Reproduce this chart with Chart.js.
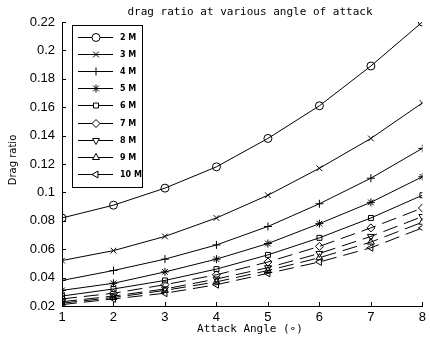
<!DOCTYPE html>
<html lang="en">
<head>
  <meta charset="UTF-8" />
  <title>Drag ratio</title>
  <script src="https://cdn.jsdelivr.net/npm/chart.js"></script>
  <style>
    body {
      margin: 0;
      padding: 0;
      background: #ffffff;
    }
    .wrap {
      width: 430px;
      height: 337px;
    }
  </style>
</head>
<body>
  <div class="wrap"><canvas id="dragChart" width="430" height="337"></canvas></div>

  <script>
    // data
    const angles = [1, 2, 3, 4, 5, 6, 7, 8];
    const seriesNames = ['2 M', '3 M', '4 M', '5 M', '6 M', '7 M', '8 M', '9 M', '10 M'];
    const m2  = [0.082, 0.091, 0.103, 0.118, 0.138, 0.161, 0.189, 0.220];
    const m3  = [0.052, 0.059, 0.069, 0.082, 0.098, 0.117, 0.138, 0.163];
    const m4  = [0.038, 0.045, 0.053, 0.063, 0.076, 0.092, 0.110, 0.131];
    const m5  = [0.031, 0.036, 0.044, 0.053, 0.064, 0.078, 0.093, 0.111];
    const m6  = [0.027, 0.032, 0.038, 0.046, 0.056, 0.068, 0.082, 0.098];
    const m7  = [0.025, 0.029, 0.035, 0.042, 0.051, 0.062, 0.075, 0.089];
    const m8  = [0.023, 0.027, 0.032, 0.039, 0.047, 0.057, 0.069, 0.083];
    const m9  = [0.022, 0.026, 0.031, 0.037, 0.045, 0.054, 0.065, 0.079];
    const m10 = [0.021, 0.025, 0.029, 0.035, 0.043, 0.051, 0.061, 0.075];
    const yTicks = [0.02, 0.04, 0.06, 0.08, 0.1, 0.12, 0.14, 0.16, 0.18, 0.2, 0.22];

    const allSeries = [m2, m3, m4, m5, m6, m7, m8, m9, m10];
    const markers = ['circle', 'crossRot', 'cross', 'star', 'rect', 'rectRot', 'triangle', 'triangle', 'triangle'];
    const rotations = [0, 0, 0, 0, 0, 0, 180, 0, 270];
    const dashed = [false, false, false, false, false, true, true, true, true];

    const datasets = allSeries.map((vals, i) => ({
      label: seriesNames[i],
      data: angles.map((a, k) => ({ x: a, y: vals[k] })),
      borderColor: '#000',
      borderWidth: 1,
      borderDash: dashed[i] ? [15, 7] : [],
      pointStyle: markers[i],
      pointRotation: rotations[i],
      pointRadius: markers[i] === 'rect' ? 3.5 : 4,
      pointBorderColor: '#000',
      pointBackgroundColor: 'rgba(0,0,0,0)',
      pointBorderWidth: 1,
      tension: 0,
      fill: false
    }));

    const fmt = v => String(Math.round(v * 100) / 100);

    // inward ticks, titles and boxed legend
    const decor = {
      id: 'decor',
      afterDraw(chart) {
        const ctx = chart.ctx;
        const xs = chart.scales.x, ys = chart.scales.y;
        const area = chart.chartArea;
        ctx.save();
        ctx.strokeStyle = '#000';
        ctx.lineWidth = 1;
        ctx.beginPath();
        yTicks.forEach(v => {
          const py = Math.round(ys.getPixelForValue(v)) + 0.5;
          ctx.moveTo(area.left, py);
          ctx.lineTo(area.left + 4, py);
        });
        angles.forEach(a => {
          const px = Math.round(xs.getPixelForValue(a)) + 0.5;
          ctx.moveTo(px, area.bottom);
          ctx.lineTo(px, area.bottom - 4);
        });
        ctx.stroke();

        // titles
        ctx.fillStyle = '#000';
        ctx.textAlign = 'center';
        ctx.textBaseline = 'middle';
        ctx.font = '11px "DejaVu Sans Mono", monospace';
        ctx.fillText('drag ratio at various angle of attack', 250, 12);
        ctx.fillText('Attack Angle (\u2218)', 250, 329);
        ctx.save();
        ctx.translate(13, 160);
        ctx.rotate(-Math.PI / 2);
        ctx.font = '10px "DejaVu Sans", sans-serif';
        ctx.fillText('Drag ratio', 0, 0);
        ctx.restore();

        // legend
        const bx = 72.5, by = 25.5, bw = 70, bh = 162;
        ctx.fillStyle = '#fff';
        ctx.fillRect(bx, by, bw, bh);
        ctx.strokeRect(bx, by, bw, bh);
        ctx.font = 'bold 8px "DejaVu Sans", sans-serif';
        ctx.textAlign = 'left';
        chart.data.datasets.forEach((ds, i) => {
          const ly = Math.round(37 + i * 17.1) + 0.5;
          ctx.beginPath();
          ctx.moveTo(78, ly);
          ctx.lineTo(113, ly);
          ctx.stroke();
          ctx.fillStyle = '#fff';
          Chart.helpers.drawPoint(ctx, {
            pointStyle: ds.pointStyle,
            rotation: ds.pointRotation,
            radius: ds.pointRadius,
            borderWidth: 1
          }, 96, ly);
          ctx.fillStyle = '#000';
          ctx.fillText(ds.label, 120, ly + 0.5);
        });
        ctx.restore();
      }
    };

    new Chart(document.getElementById('dragChart'), {
      type: 'line',
      data: { datasets },
      options: {
        responsive: false,
        animation: false,
        events: [],
        layout: { padding: { top: 22, right: 4, left: 0, bottom: 0 } },
        plugins: {
          legend: { display: false },
          title: { display: false },
          tooltip: { enabled: false }
        },
        scales: {
          x: {
            type: 'linear',
            min: 1,
            max: 8,
            afterFit: s => { s.height = 31; },
            afterBuildTicks: s => { s.ticks = angles.map(v => ({ value: v })); },
            grid: { display: false, drawTicks: false },
            border: { display: true, color: '#000', width: 1 },
            ticks: {
              color: '#000',
              padding: 4,
              maxRotation: 0,
              font: { family: '"Liberation Sans Narrow", "Liberation Sans", sans-serif', size: 13 }
            }
          },
          y: {
            type: 'linear',
            min: 0.02,
            max: 0.22,
            afterFit: s => { s.width = 62; },
            afterBuildTicks: s => { s.ticks = yTicks.map(v => ({ value: v })); },
            grid: { display: false, drawTicks: false },
            border: { display: true, color: '#000', width: 1 },
            ticks: {
              color: '#000',
              padding: 7,
              callback: v => fmt(v),
              font: { family: '"Liberation Sans Narrow", "Liberation Sans", sans-serif', size: 13 }
            }
          }
        }
      },
      plugins: [decor]
    });
  </script>
</body>
</html>
